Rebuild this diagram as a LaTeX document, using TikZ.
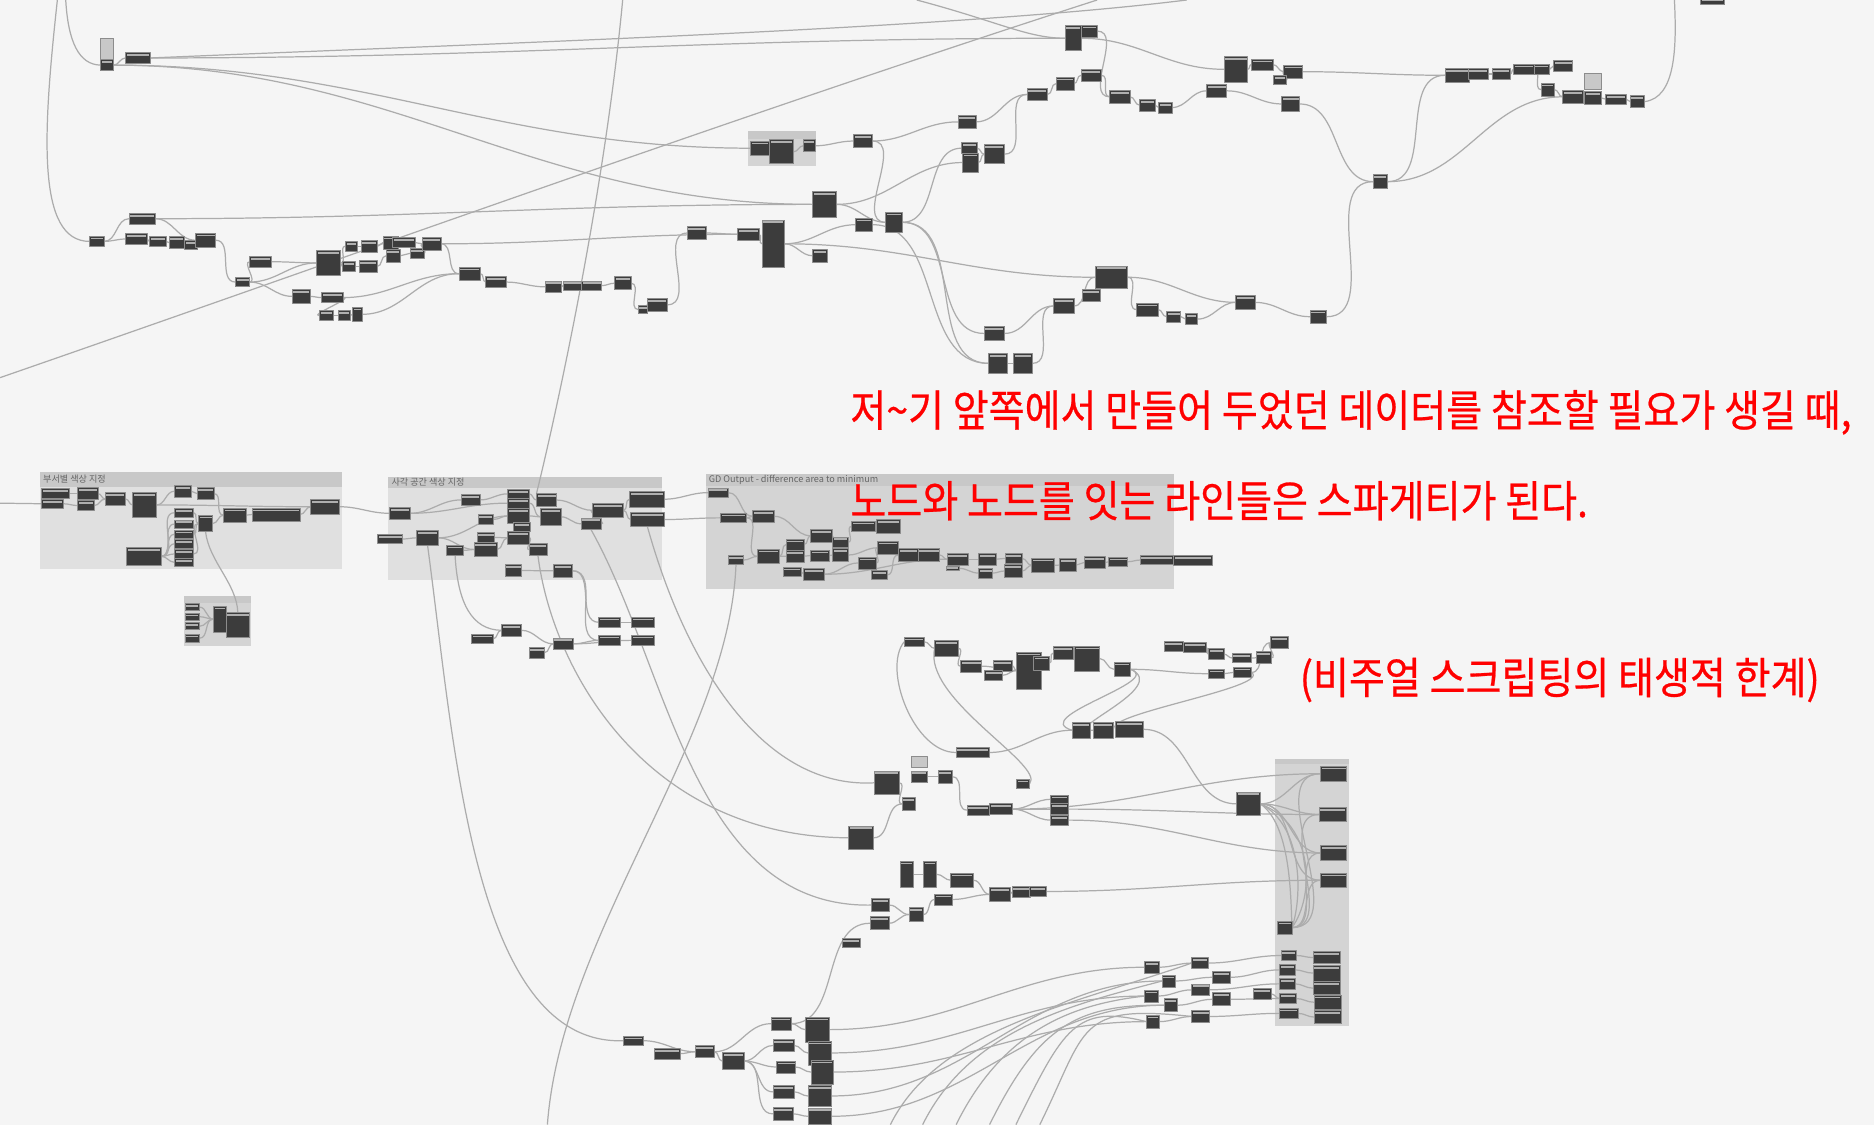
\documentclass[tikz,border=0pt]{standalone}
\usepackage{fontspec}
\usepackage{graphicx}
\newfontfamily\krfont{Noto Sans CJK KR}
\newfontfamily\krbold[FakeBold=0.6]{Noto Sans CJK KR}
\definecolor{canvas}{RGB}{245,245,245}
\definecolor{nodefill}{RGB}{60,60,60}
\definecolor{nodeedge}{RGB}{140,140,140}
\definecolor{nodehead}{RGB}{175,175,175}
\definecolor{wirecol}{RGB}{172,172,172}
\definecolor{grpbody}{RGB}{224,224,224}
\definecolor{grphead}{RGB}{200,200,200}
\definecolor{grpdark}{RGB}{212,212,212}
\definecolor{notefill}{RGB}{200,200,200}
\definecolor{txtred}{RGB}{255,0,0}
\pgfdeclarelayer{back}\pgfdeclarelayer{wires}
\pgfsetlayers{back,wires,main}
\begin{document}
\begin{tikzpicture}[x=0.12mm, y=-0.12mm, line join=round, line cap=round,
  dnode/.style={draw=nodeedge, line width=0.2pt, fill=nodefill, inner sep=0pt, outer sep=0pt,
    path picture={\fill[nodehead] ([xshift=0.35pt,yshift=-0.45pt]path picture bounding box.north west) rectangle ([xshift=-0.35pt,yshift=-0.95pt]path picture bounding box.north east);}},
  note/.style={fill=notefill, draw=nodeedge, line width=0.2pt, inner sep=0pt},
  wire/.style={draw=wirecol, line width=0.35pt},
  grptitle/.style={font=\krfont\fontsize{2.6}{3}\selectfont, text=black!60, inner sep=0pt, anchor=west},
  redtxt/.style={font=\krbold\fontsize{12.4}{15}\selectfont, text=txtred, inner sep=0pt, anchor=west}]
\useasboundingbox (0,0) rectangle (1568,941);
\begin{pgfonlayer}{back}
\fill[canvas] (0,0) rectangle (1568,941);
\foreach \xa/\ya/\xb/\yb/\yh/\c in {33.5/394.7/286/476/407.2/grpbody, 325/398.9/553.7/485.3/408.1/grpbody, 590.8/396.9/982.5/492.9/406.4/grpdark, 153.6/498.7/210/540.4/504.2/grpdark, 626/110/683/139/116/grpdark, 1067.2/635.2/1128.4/858.5/639.4/grpdark} {\fill[\c] (\xa,\ya) rectangle (\xb,\yb); \fill[grphead] (\xa,\ya) rectangle (\xb,\yh);}
\end{pgfonlayer}
\node[grptitle] (g1title) at (35.5,401) {부서별 색상 지정};
\node[grptitle] (g2title) at (327,403.5) {사각 공간 색상 지정};
\node[grptitle] (g3title) at (592.5,401.6) {GD Output - difference area to minimum};
% top rows
\foreach \n/\x/\y/\w/\h in {a1/89.5/54.5/11/9, a2/115.5/48.5/21/9, a3/81/202/12/9, a4/119/183/22/9, a5/114/200/18/9, a6/132/202/14/8, a7/148/203/13/10, a8/160/205/11/8, a9/172/201/17/12, a10/203/236/12/8, a11/218/219/18/9, a12/275/220/20/21, a13/292/223/11/8, a14/294/206/10/8, a15/309/206/14/10, a16/308/223/15/10, a17/327/203/13/11, a18/338/203/19/8, a19/329/214/12/11, a20/349/212/12/8, a21/361/204/16/11, a22/393/229/18/11, a23/415/236/17/9, a24/252/248/15/11, a25/278/249/18/8, a26/273/264/11/8, a27/288/264/10/8, a28/299/263/8/12, a29/463/240/14/10, a30/479/239/16/8, a31/495/239/17/8, a32/521/237/14/11, a33/538/259/8/7, a34/550/255/17/11, a35/583/195/16/11}
  \node[dnode, minimum width=\w*0.12mm, minimum height=\h*0.12mm] (\n) at (\x,\y) {};
\foreach \n/\x/\y/\w/\h in {b1/898/32/14/21, b1s/911.5/26/13/10, b2/1034/58/20/21, b3/1056/54/18/9, b4/1082/60/16/11, b5/1071/67/11/8, b6/1018/76/17/11, b7/1080/87/15/12, b8/913/63/17/10, b9/891/70/15/11, b10/868/79/17/10, b11/937/81/17/11, b12/960/88/13/10, b13/975/90/11/9, b14/809/102/15/11, b15/722/118/16/11, b16/811/124/13/9, b17/832/129/17/16, b18/812/136/13/16, b19/690/171/20/22, b20/723/188/14/11, b21/748/186/14/17, b22/626/196/18/10, b23/647/204/19/40, b24/686/214/12/11, b25/930/232/27/19, b26/913/247/15/10, b27/890/256/17/12, b28/960/259/18/11, b29/982/265/12/9, b30/997/267/10/9, b31/1042/253/16/11, b32/1103/265/14/11, b33/1155/152/12/12, b34/832/279/17/12, b35/835/304/16/16, b36/856/304/16/16, g5a/636/124/16/12, g5b/654/127/20/20, g5c/677/122/10/10, c1/1219/63/20/11, c2/1237/62/17/9, c3/1256/62/15/9, c4/1275/58/17/9, c5/1290/58/13/9, c6/1308/55/16/9, c7/1295/75/11/11, c8/1316/81/17/11, c9/1333/82/14/11, c10/1352/83/17/8, c11/1370/85/12/10, c12/1433/1/20/6}
  \node[dnode, minimum width=\w*0.12mm, minimum height=\h*0.12mm] (\n) at (\x,\y) {};
% groups in the middle
\foreach \n/\x/\y/\w/\h in {d1/46.5/413/23/8, d2/44/421.5/18/7, d3/73.5/413/17/10, d4/72/423/14/8, d5/96.5/417.5/17/11, d6/121/422.5/20/21, d7/153/411/14/10, d8/172/413/14/10, d9/154/429/16/7, d10/154/438.5/16/7, d11/154/447/16/7, d12/154/455/16/7, d13/154/463.5/16/7, d14/154/470.5/16/6, d15/172/438/12/14, d16/196.5/431/19/12, d17/231/430.5/40/11, d18/272/424/24/12, d19/120.5/465.5/29/15, g4n1/161/508/12/6, g4n2/161/516/12/6, g4n3/161/524/12/6, g4n4/161/534/12/7, g4c/184/518/11/22, g4b/199/523/20/21}
  \node[dnode, minimum width=\w*0.12mm, minimum height=\h*0.12mm] (\n) at (\x,\y) {};
\foreach \n/\x/\y/\w/\h in {e1/334.5/429.5/17/10, e2/326.5/451/21/8, e3/357.7/450/18/12, e4/393.7/418.3/16/9, e5/406.5/434.6/13/8, e6/380.8/460.5/14/9, e7/406.5/449.7/15/8, e8/406.3/459.8/19/12, e9a/433.8/413.2/18/7, e9b/433.8/421/18/8, e9c/433.8/431.7/18/12, e9d/436.5/441/14/8, e10/433.8/450/18/11, e11/457.4/418.4/17/11, e12/460.8/432.4/17/14, e13/450.1/459.8/15/10, e14/429.6/477.4/14/10, e15/471.1/477.6/16/11, e16/494.6/438.3/17/10, e17/508.6/427/26/11, e18/541.2/417.7/29/13, e19/541.7/434.7/28/12, h1/428/527.4/17/10, h2/403.5/534.6/18/8, h3/449.3/546/13/9, h4/471.3/538.7/17/10, h5/510/520.7/18/9, h6/537.8/520.7/19/9, h7/510/535.8/18/9, h8/537.8/535.8/19/9}
  \node[dnode, minimum width=\w*0.12mm, minimum height=\h*0.12mm] (\n) at (\x,\y) {};
\foreach \n/\x/\y/\w/\h in {f1/600.8/412.2/17/8, f2/613.7/433.3/22/8, f3/638.8/432/18/10, f4/615.8/468.6/13/8, f5/642.9/465.5/18/12, f6/665.3/455.6/15/9, f7/665.3/465.4/15/10, f8/662.8/478.4/15/8, f9/681/480.5/17/10, f10/687.4/448.3/18/11, f11/686.2/464.8/16/9, f12/703.2/453.7/13/9, f13/703.2/464.4/13/11, f14/722.4/440.5/20/9, f15/743.4/440.4/20/11, f16/742.8/458.3/17/11, f17/725.7/471/15/10, f18/735.7/481.1/13/8, f19/760.1/464.4/17/11, f20/777.3/464.4/18/11, f21/801.3/467.9/18/10, f22/797/475.5/11/4, f23/826.1/467.9/15/10, f24/824.7/479.5/12/8, f25/848/467.2/14/8, f26/847.6/477.8/15/11, f27/872.8/473/19/12, f28/893.5/472.8/14/11, f29/915.9/470.7/18/10, f30/935.6/470/16/8, f31/968/468.6/28/8, f32/998/469/32/8}
  \node[dnode, minimum width=\w*0.12mm, minimum height=\h*0.12mm] (\n) at (\x,\y) {};
% lower right
\foreach \n/\x/\y/\w/\h in {l1/765/537/17/8, l2/792/542.5/20/13, l3/812.5/557.4/18/10, l4/838.8/557/16/9, l5/831.5/565/15/8, l6/861/561/21/31, l7/871.3/555/13/12, l8/889.7/546.4/17/11, l9/909.7/551/21/21, l10/939/560/14/12, l11/982/541/16/8, l12/999.8/541.8/19/8, l13/1017.5/547.3/13/9, l14/1039/550.6/16/8, l15/1057.5/550.4/13/10, l16/1070.7/537.8/15/10, l17/1017.5/563.7/13/8, l18/1039.6/562.6/15/9, m1/904.5/611/15/13, m2/923.2/611/17/13, m3/945/610.2/23/13, m4/813.9/629.6/28/8, m5/769.2/650/14/10, m6/790.9/650/12/11, m7/741.9/655/21/20, m8/760.3/672.7/11/11, m9/856/655.8/11/8, m10/818.5/677.8/19/8, m11/837.5/677/19/9, m12/886.7/668.8/15/7, m13/886.7/677/15/9, m14/886.7/686.2/15/8, m15/1044.5/672.6/20/20}
  \node[dnode, minimum width=\w*0.12mm, minimum height=\h*0.12mm] (\n) at (\x,\y) {};
\foreach \n/\x/\y/\w/\h in {n1/1115.9/647.4/22/13, n2/1115.3/681.5/23/12, n3/1115.9/713.7/22/13, n4/1115.9/736.5/22/12, n5/1075/776.1/12/11, n6/1078.3/799.5/13/8, n7/1077/811.5/13/9, n8/1077/823.2/13/9, n9/1077.7/835.5/14/8, n10/1078.3/847.9/16/9, n11/1110/801.2/23/10, n12/1110/814.2/23/13, n13/1110/826.8/23/11, n14/1111/838.6/23/12, n15/1111/851/23/11, o1/963.8/809.3/12/10, o2/1004.1/805.8/14/9, o3/1022/817.7/15/10, o4/977.9/820.8/11/10, o5/963.3/833.4/11/10, o6/1004.7/828.2/15/10, o7/1022/836.1/15/11, o8/979.5/841.1/11/11, o9/1056.1/831.6/15/9, o10/964.6/854.8/11/11, o11/1004.7/850.5/15/10}
  \node[dnode, minimum width=\w*0.12mm, minimum height=\h*0.12mm] (\n) at (\x,\y) {};
\foreach \n/\x/\y/\w/\h in {r1/758.7/731.5/11/22, r2/778.2/731.5/11/22, r3/805/736.5/19/12, r4/836.7/748.4/17/12, r5/854.2/746.3/15/9, r6/868.5/745.9/14/8, r7/789.5/752.6/15/9, r8/766.5/765.2/12/12, r9/736.7/757.3/15/11, r10/735.9/772.5/16/11, i1/720.5/701/21/20, i3/712/789/15/8, j1/530/870.8/17/8, j2/558.2/881.6/22/9, j3/589.7/880/16/10, j4/613.4/887.8/18/14, j5/653.6/856.5/17/11, j6/655.7/874.8/18/10, j7/657.8/892.8/16/10, j8/655.7/913.6/18/11, j9/655.2/932/17/11, k1/684/861.5/20/21, k2/686/881/20/20, k3/688/897/19/20, k4/686/917/20/18, k5/686/934/20/14}
  \node[dnode, minimum width=\w*0.12mm, minimum height=\h*0.12mm] (\n) at (\x,\y) {};
\foreach \n/\x/\y/\w/\h in {a0/89.5/41/11/18, cn/1333/68/14/14, mn/769.2/637.7/14/9}
  \node[note, minimum width=\w*0.12mm, minimum height=\h*0.12mm] (\n) at (\x,\y) {};
\coordinate (tl1) at (48,0);
\coordinate (tl2) at (55,0);
\coordinate (bl1) at (0,316);
\coordinate (tr1) at (918,0);
\coordinate (tr2) at (993,0);
\coordinate (tt1) at (767,0);
\coordinate (ttop) at (521,0);
\coordinate (left0) at (0,421);
\coordinate (tr3) at (1401,0);
\coordinate (fb) at (458,941);
\begin{pgfonlayer}{wires}
\foreach \a/\b in {a1/a2, a3/a4, a3/a5, a5/a6, a6/a7, a7/a8, a8/a9, a4/a9, a9/a10, a10/a11, a10/a24, a10/a12, a11/a12, a12/a13, a12/a14, a14/a15, a13/a16, a15/a17, a16/a19, a17/a18, a19/a20, a18/a21, a20/a21, a21/a22, a24/a25, a25/a26, a26/a27, a27/a28, a25/a22, a28/a22, a22/a23, a23/a29, a29/a30, a30/a31, a31/a32, a32/a33, a33/a34, a34/a35, a35/b22, a21/b22, a4/b19, a1/b19, a1/g5a, a2/b1}
  \draw[wire] (\a.east) to[out=0,in=180] (\b.west);
\foreach \a/\b in {g5a/g5b, g5b/g5c, g5c/b15, b15/b14, b15/b21, b14/b10, b17/b10, b10/b9, b9/b8, b8/b11, b1s/b11, b11/b12, b12/b13, b13/b6, b6/b7, b1/b2, b2/b3, b3/b4, b5/b4, b4/c1, b7/b33, b33/c1, b33/c8, b32/b33, b19/b21, b19/b18, b16/b17, b18/b17, b21/b16, b22/b23, b23/b24, b23/b20, b21/b34, b21/b35, b20/b35, b23/b25, b34/b27, b36/b27, b35/b36, b27/b25, b25/b28, b28/b29, b29/b30, b30/b31, b25/b31, b31/b32, c1/c2, c2/c3, c3/c4, c4/c5, c5/c6, c4/c7, c7/c8, c8/c9, c9/c10, c10/c11}
  \draw[wire] (\a.east) to[out=0,in=180] (\b.west);
\foreach \a/\b in {d1/d3, d2/d4, d3/d5, d4/d5, d5/d6, d6/d7, d7/d8, d8/d16, d19/d9, d19/d10, d19/d11, d19/d12, d19/d13, d19/d14, d9/d15, d11/d15, d13/d15, d15/d16, d16/d17, d17/d18, d6/d18, d18/e1, g4n1/g4c, g4n2/g4c, g4n3/g4c, g4n4/g4c, g4c/g4b, e2/e3, e1/e4, e1/e9b, e3/e9c, e3/e8, e4/e9a, e5/e9c, e6/e8, e7/e10, e8/e10, e9a/e11, e9b/e12, e9c/e12, e10/e13, e11/e17, e12/e16, e16/e17, e17/e18, e17/e19, e14/e15, e18/f1, e19/f2, e15/h5, e15/h7, h2/h1, h1/h4, h3/h4, h4/h7, h4/h8, h5/h6, h7/h8}
  \draw[wire] (\a.east) to[out=0,in=180] (\b.west);
\foreach \a/\b in {f1/f3, f2/f3, f2/f5, f3/f10, f4/f5, f5/f6, f5/f7, f6/f10, f7/f11, f10/f12, f11/f13, f8/f9, f9/f17, f12/f14, f13/f16, f14/f15, f17/f16, f16/f19, f18/f19, f19/f20, f20/f21, f9/f21, f21/f23, f22/f24, f23/f25, f24/f26, f25/f27, f26/f27, f27/f28, f28/f29, f29/f30, f30/f31, f31/f32}
  \draw[wire] (\a.east) to[out=0,in=180] (\b.west);
\foreach \a/\b in {l1/l2, l2/l3, l3/l6, l4/l6, l5/l6, l6/l7, l7/l8, l8/l9, l9/l10, l10/l17, l11/l12, l12/l13, l13/l14, l14/l15, l15/l16, l17/l18, l18/l16, m4/m1, m3/m15, m15/n1, m15/n2, m15/n3, m15/n4, m11/n1, m13/n2, m14/n3, r6/n4, m5/m6, m6/m10, m10/m11, m11/m12, m11/m13, m11/m14, m7/m8, i1/m8, r1/r2, r2/r3, r3/r4, r4/r5, r5/r6, r7/r4, r8/r7, r9/r8, r10/r8}
  \draw[wire] (\a.east) to[out=0,in=180] (\b.west);
\foreach \a/\b in {j1/j3, j2/j3, j3/j4, j3/j5, j4/j6, j4/j7, j4/j8, j4/j9, j5/k1, j6/k2, j7/k3, j8/k4, j9/k5, j5/r10, k1/o1, k2/o5, k3/o10, k4/o4, k5/o8, o1/o2, o4/o3, o5/o6, o8/o7, o10/o11, o2/n6, o3/n7, o6/n8, o7/n9, o9/n9, o11/n10, n6/n11, n7/n12, n8/n13, n9/n14, n10/n15, n5/n1, n5/n2, n5/n3, n5/n4}
  \draw[wire] (\a.east) to[out=0,in=180] (\b.west);
\draw[wire] (tl1) .. controls (36,110) and (30,202) .. (a3.west);
\draw[wire] (tl2) .. controls (57,35) and (66,54) .. (a1.west);
\draw[wire] (bl1) .. controls (300,212) and (620,96) .. (tr1);
\draw[wire] (a2.east) .. controls (420,36) and (800,24) .. (tr2);
\draw[wire] (tt1) .. controls (835,18) and (860,32) .. (b1.west);
\draw[wire] (ttop) .. controls (505,170) and (462,360) .. (e11.north west);
\draw[wire] (left0) -- (d2.west);
\draw[wire] (c11.east) .. controls (1402,82) and (1403,40) .. (tr3);
\draw[wire] (d15.south) .. controls (175,470) and (198,488) .. (g4b.north);
\draw[wire] (e3.south) .. controls (380,620) and (395,875) .. (j1.west);
\draw[wire] (e6.south) .. controls (383,505) and (395,527) .. (h1.west);
\draw[wire] (e13.south) .. controls (462,560) and (540,700) .. (i1.west);
\draw[wire] (e16.south) .. controls (560,560) and (580,760) .. (r9.west);
\draw[wire] (e19.south) .. controls (575,560) and (640,660) .. (m7.west);
\draw[wire] (f4.south) .. controls (610,620) and (470,780) .. (fb);
\draw[wire] (l1.west) .. controls (738,560) and (765,630) .. (m4.west);
\draw[wire] (l2.west) .. controls (772,585) and (875,640) .. (m9.east);
\draw[wire] (l10.east) .. controls (975,570) and (860,600) .. (m1.west);
\draw[wire] (l10.east) .. controls (980,575) and (885,612) .. (m2.west);
\draw[wire] (l18.east) .. controls (1065,575) and (920,598) .. (m3.west);
\foreach \k in {1080,1090,1100} \draw[wire] (m15.east) .. controls (\k,690) and (\k,750) .. (n5.east);
\foreach \bx/\t in {745/o2, 772/o4, 800/o5, 828/o8, 850/o10, 870/o11} {\coordinate (bt\bx) at (\bx,941); \draw[wire] (bt\bx) .. controls (\bx+40,860) and (900,840) .. (\t.west);}
\end{pgfonlayer}
\node[redtxt] (line1) at (711,345) {\scalebox{0.9}[1]{저\textasciitilde 기 앞쪽에서 만들어 두었던 데이터를 참조할 필요가 생길 때,}};
\node[redtxt] (line2) at (711,419) {\scalebox{0.9}[1]{노드와 노드를 잇는 라인들은 스파게티가 된다.}};
\node[redtxt] (line3) at (1087,569) {\scalebox{0.9}[1]{(비주얼 스크립팅의 태생적 한계)}};
\end{tikzpicture}
\end{document}
